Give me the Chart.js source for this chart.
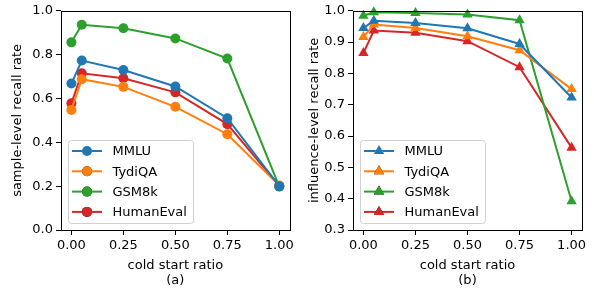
<!DOCTYPE html>
<html>
<head>
<meta charset="utf-8">
<script src="https://cdn.jsdelivr.net/npm/chart.js@4.4.0/dist/chart.umd.min.js"></script>
<style>
  body { margin: 0; background: #fff; }
  #wrap { position: relative; width: 594px; height: 291px; }
  .box { position: absolute; top: 0; width: 297px; height: 291px; }
</style>
</head>
<body>
<div id="wrap">
  <div class="box" style="left:0"><canvas id="left" width="297" height="291"></canvas></div>
  <div class="box" style="left:297px"><canvas id="right" width="297" height="291"></canvas></div>
</div>
<script>
const ratios = [0, 0.05, 0.25, 0.5, 0.75, 1.0];
const seriesNames = ['MMLU', 'TydiQA', 'GSM8k', 'HumanEval'];
const colors = ['#1f77b4', '#ff7f0e', '#2ca02c', '#d62728'];

// (a) sample-level recall rate
const sampleMMLU      = [0.668, 0.773, 0.730, 0.655, 0.510, 0.200];
const sampleTydiQA    = [0.548, 0.688, 0.653, 0.562, 0.437, 0.203];
const sampleGSM8k     = [0.856, 0.936, 0.920, 0.874, 0.782, 0.198];
const sampleHumanEval = [0.578, 0.715, 0.692, 0.628, 0.483, 0.201];

// (b) influence-level recall rate
const inflMMLU      = [0.945, 0.968, 0.961, 0.944, 0.894, 0.723];
const inflTydiQA    = [0.916, 0.956, 0.945, 0.919, 0.874, 0.750];
const inflGSM8k     = [0.984, 0.995, 0.993, 0.988, 0.970, 0.392];
const inflHumanEval = [0.865, 0.937, 0.930, 0.903, 0.820, 0.563];

const xTicks = [0, 0.25, 0.5, 0.75, 1.0];
const leftYTicks = [0, 0.2, 0.4, 0.6, 0.8, 1.0];
const rightYTicks = [0.3, 0.4, 0.5, 0.6, 0.7, 0.8, 0.9, 1.0];

const FONT = 'DejaVu Sans';
const FS = 13;

function makeDatasets(seriesList, style, radius) {
  return seriesList.map((vals, i) => ({
    label: seriesNames[i],
    data: ratios.map((r, j) => ({ x: r, y: vals[j] })),
    borderColor: colors[i],
    backgroundColor: colors[i],
    pointStyle: style,
    pointRadius: radius,
    pointHoverRadius: radius,
    borderWidth: 2,
    pointBorderWidth: 0,
    showLine: true,
    clip: false
  }));
}

// matplotlib-like box around the plot area
const frame = {
  id: 'frame',
  afterDatasetsDraw(chart) {
    const { ctx, chartArea: a } = chart;
    ctx.save();
    ctx.strokeStyle = '#000';
    ctx.lineWidth = 1;
    ctx.strokeRect(Math.round(a.left) + 0.5, Math.round(a.top) + 0.5,
      Math.round(a.right - a.left), Math.round(a.bottom - a.top));
    ctx.restore();
  }
};

// legend drawn inside the plot, lower left
const legendInside = {
  id: 'legendInside',
  afterDraw(chart) {
    const { ctx, chartArea: a } = chart;
    const bx = Math.round(a.left + 7) + 0.5, by = Math.round(a.bottom - 7 - 83) + 0.5;
    ctx.save();
    ctx.beginPath();
    ctx.roundRect(bx, by, 125, 83, 3);
    ctx.fillStyle = 'rgba(255,255,255,0.8)';
    ctx.fill();
    ctx.strokeStyle = '#d0d0d0';
    ctx.lineWidth = 1;
    ctx.stroke();
    chart.data.datasets.forEach((ds, i) => {
      const y = by + 10.5 + i * 20.3;
      ctx.strokeStyle = ds.borderColor;
      ctx.lineWidth = 2;
      ctx.beginPath();
      ctx.moveTo(bx + 3.5, y);
      ctx.lineTo(bx + 33.5, y);
      ctx.stroke();
      Chart.helpers.drawPoint(ctx, {
        pointStyle: ds.pointStyle, radius: ds.pointRadius, borderWidth: 0, rotation: 0
      }, bx + 18.5, y);
      ctx.fillStyle = ds.borderColor;
      ctx.fill();
      ctx.fillStyle = '#000';
      ctx.font = FS + 'px "' + FONT + '"';
      ctx.textBaseline = 'middle';
      ctx.textAlign = 'left';
      ctx.fillText(ds.label, bx + 44, y + 1);
    });
    ctx.restore();
  }
};

function makeChart(id, datasets, yTitle, xTitle, yMin, yMax, yTicks, yAxisW, padRight) {
  return new Chart(document.getElementById(id), {
    type: 'scatter',
    data: { datasets },
    plugins: [frame, legendInside],
    options: {
      responsive: false,
      animation: false,
      devicePixelRatio: 1,
      layout: { padding: { left: 0, right: padRight, top: 8, bottom: 0 } },
      plugins: { legend: { display: false }, tooltip: { enabled: false } },
      scales: {
        x: {
          type: 'linear',
          min: -0.05, max: 1.05,
          afterBuildTicks: s => { s.ticks = xTicks.map(v => ({ value: v })); },
          afterFit: s => { s.height = 61; },
          border: { display: false },
          grid: { drawOnChartArea: false, drawTicks: true, tickLength: 5, color: '#000', tickWidth: 1 },
          ticks: { color: '#000', font: { family: FONT, size: FS }, padding: 3,
                   maxRotation: 0, callback: v => v.toFixed(2) },
          title: { display: true, text: xTitle, color: '#000',
                   font: { family: FONT, size: FS, lineHeight: 1.15 }, padding: { top: 0, bottom: 3 } }
        },
        y: {
          type: 'linear',
          min: yMin, max: yMax,
          afterBuildTicks: s => { s.ticks = yTicks.map(v => ({ value: v })); },
          afterFit: s => { s.width = yAxisW; },
          border: { display: false },
          grid: { drawOnChartArea: false, drawTicks: true, tickLength: 5, color: '#000', tickWidth: 1 },
          ticks: { color: '#000', font: { family: FONT, size: FS }, padding: 3,
                   callback: v => v.toFixed(1) },
          title: { display: true, text: yTitle, color: '#000',
                   font: { family: FONT, size: FS }, padding: { top: 10, bottom: 0 } }
        }
      }
    }
  });
}

makeChart('left',
  makeDatasets([sampleMMLU, sampleTydiQA, sampleGSM8k, sampleHumanEval], 'circle', 5),
  'sample-level recall rate', ['cold start ratio', '(a)'], 0, 1.0, leftYTicks, 61, 5);

makeChart('right',
  makeDatasets([inflMMLU, inflTydiQA, inflGSM8k, inflHumanEval], 'triangle', 6),
  'influence-level recall rate', ['cold start ratio', '(b)'], 0.3, 1.0, rightYTicks, 56, 12);
</script>
</body>
</html>
